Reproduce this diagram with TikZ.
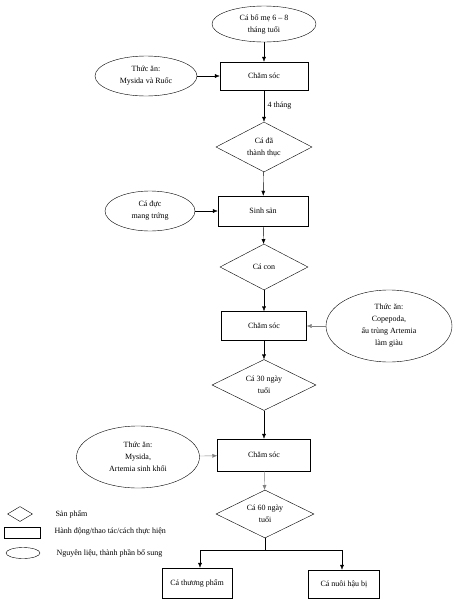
\documentclass[tikz,border=0pt]{standalone}
\usepackage{fontspec}
\setmainfont{Liberation Serif}
\usetikzlibrary{shapes.geometric, arrows.meta}

\begin{document}
\begin{tikzpicture}[x=1pt, y=-1pt, >={Latex[length=5pt, width=4pt]}, auto,
    every node/.style={font=\fontsize{8}{12}\selectfont, align=center},
    act/.style={draw, rectangle, inner sep=0pt},
    prod/.style={draw, diamond, aspect=2, inner sep=0pt},
    feed/.style={draw, ellipse, inner sep=0pt}]
    \useasboundingbox (0,0) rectangle (458,603);
    % main chain
    \node[feed, minimum width=104pt, minimum height=36pt] (parents) at (264,24) {Cá bố mẹ 6 -- 8\\tháng tuổi};
    \node[act, minimum width=88pt, minimum height=28pt] (care1) at (264,76) {Chăm sóc};
    \node[prod, minimum width=96pt, minimum height=50pt] (mature) at (264,147) {Cá đã\\thành thục};
    \node[act, minimum width=90pt, minimum height=30pt] (spawn) at (263,211) {Sinh sản};
    \node[prod, minimum width=88pt, minimum height=46pt] (fry) at (264,267) {Cá con};
    \node[act, minimum width=85pt, minimum height=29pt] (care2) at (264,326) {Chăm sóc};
    \node[prod, minimum width=104pt, minimum height=51pt] (d30) at (264,385) {Cá 30 ngày\\tuổi};
    \node[act, minimum width=93pt, minimum height=32pt] (care3) at (264,455) {Chăm sóc};
    \node[prod, minimum width=98pt, minimum height=48pt] (d60) at (265,514) {Cá 60 ngày\\tuổi};
    \node[act, minimum width=70pt, minimum height=30pt] (market) at (197,583) {Cá thương phẩm};
    \node[act, minimum width=71pt, minimum height=28pt] (brood) at (344,584) {Cá nuôi hậu bị};
    % side inputs
    \node[feed, minimum width=102pt, minimum height=40pt] (food1) at (146,76) {Thức ăn:\\Mysida và Ruốc};
    \node[feed, minimum width=90pt, minimum height=40pt] (male) at (150,211) {Cá đực\\mang trứng};
    \node[feed, minimum width=126pt, minimum height=72pt] (food2) at (389,326) {Thức ăn:\\Copepoda,\\ấu trùng Artemia\\làm giàu};
    \node[feed, minimum width=123pt, minimum height=62pt] (food3) at (138,457) {Thức ăn:\\Mysida,\\Artemia sinh khối};
    % split
    \coordinate (split) at (265,550);
    \coordinate (lsplit) at (200,550);
    \coordinate (rsplit) at (342,550);

    \draw[->] (parents) to (care1);
    \draw[->] (care1) to node {4 tháng} (mature);
    \draw[->] (mature) to (spawn);
    \draw[->] (spawn) to (fry);
    \draw[->] (fry) to (care2);
    \draw[->] (care2) to (d30);
    \draw[->] (d30) to (care3);
    \draw[->, gray] (care3) to (d60);
    \draw[->] (food1) to (care1);
    \draw[->] (male) to (spawn);
    \draw[->, gray] (food2) to (care2);
    \draw[->, gray] (food3) to (care3);
    \draw (d60.south) -- (split);
    \draw (lsplit) -- (rsplit);
    \draw[->] (lsplit) -- (lsplit |- market.north);
    \draw[->] (rsplit) -- (rsplit |- brood.north);

    % legend
    \node[prod, minimum width=25pt, minimum height=15pt] (keyprod) at (20,514) {};
    \node[act, minimum width=36pt, minimum height=11pt] (keyact) at (22,533) {};
    \node[feed, minimum width=34pt, minimum height=11pt] (keyfeed) at (23,553) {};
    \node[anchor=west] (txtprod) at (52,514) {Sản phẩm};
    \node[anchor=west] (txtact) at (51,532) {Hành động/thao tác/cách thực hiện};
    \node[anchor=west] (txtfeed) at (53,553) {Nguyên liệu, thành phần bổ sung};
\end{tikzpicture}
\end{document}
